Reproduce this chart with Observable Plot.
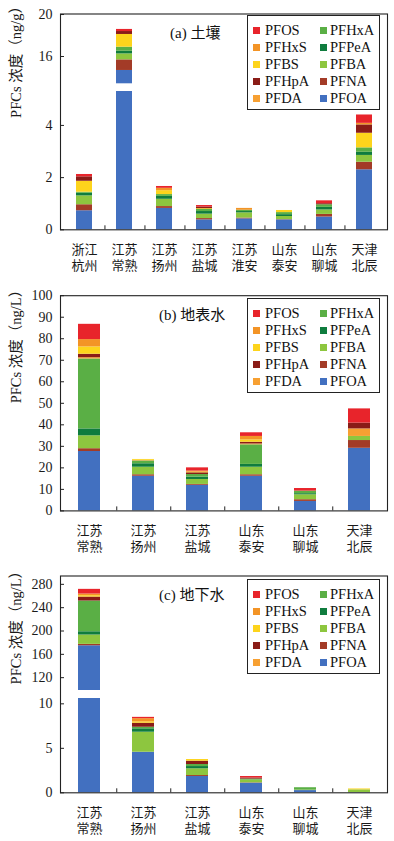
<!DOCTYPE html>
<html><head><meta charset="utf-8">
<script src="https://cdn.jsdelivr.net/npm/d3@7"></script>
<script src="https://cdn.jsdelivr.net/npm/@observablehq/plot@0.6"></script>
<style>
body{margin:0;background:#fff;}
#root{width:394px;}
.panel{position:relative;width:394px;overflow:hidden;}
.title{position:absolute;font-family:"Liberation Serif","Noto Sans CJK SC",serif;font-size:15px;line-height:15px;color:#111;white-space:nowrap;}
.legend{position:absolute;left:247px;width:133px;height:95px;border:1px solid #222;background:#fff;box-sizing:border-box;}
.sw{position:absolute;width:7px;height:7px;}
.lt{position:absolute;font-family:"Liberation Serif",serif;font-size:14.5px;line-height:17px;color:#111;white-space:nowrap;}
</style>
</head><body><div id="root"></div>
<script>
const compounds = ["PFOS","PFHxS","PFBS","PFHpA","PFDA","PFHxA","PFPeA","PFBA","PFNA","PFOA"];
const colors    = ["#e8242b","#f39426","#fdd41c","#8a1c17","#f7a032","#5aaf45","#0f7c3e","#8dc63f","#a33b27","#4270c0"];

const sitesSoil  = ["浙江杭州","江苏常熟","江苏扬州","江苏盐城","江苏淮安","山东泰安","山东聊城","天津北辰"];
const sitesWater = ["江苏常熟","江苏扬州","江苏盐城","山东泰安","山东聊城","天津北辰"];

// rows follow `compounds`, columns follow the sites
const soil = [
  [0.09, 0.20, 0.07, 0.06, 0.00, 0.00, 0.11, 0.32],
  [0.00, 0.00, 0.09, 0.00, 0.07, 0.00, 0.00, 0.06],
  [0.42, 1.21, 0.15, 0.03, 0.00, 0.08, 0.00, 0.56],
  [0.17, 0.28, 0.00, 0.06, 0.00, 0.00, 0.04, 0.32],
  [0.00, 0.00, 0.00, 0.00, 0.00, 0.00, 0.00, 0.00],
  [0.04, 0.39, 0.07, 0.08, 0.05, 0.08, 0.10, 0.17],
  [0.10, 0.25, 0.11, 0.10, 0.05, 0.07, 0.10, 0.12],
  [0.34, 0.57, 0.28, 0.17, 0.20, 0.12, 0.17, 0.26],
  [0.23, 1.01, 0.07, 0.05, 0.03, 0.01, 0.10, 0.29],
  [0.73, 14.67, 0.82, 0.38, 0.42, 0.38, 0.49, 2.30]
];
const surface = [
  [7.1, 0.0, 1.5, 1.7, 1.2, 6.6],
  [3.4, 0.0, 0.5, 1.6, 0.0, 0.0],
  [3.4, 0.4, 0.3, 1.1, 0.0, 0.0],
  [1.6, 0.0, 0.8, 0.8, 0.0, 2.7],
  [0.6, 0.3, 0.0, 0.4, 0.0, 3.5],
  [32.5, 1.3, 1.2, 9.1, 1.2, 0.0],
  [3.2, 1.6, 1.1, 1.3, 0.5, 0.0],
  [6.0, 3.5, 2.3, 3.5, 2.3, 1.9],
  [1.3, 0.7, 0.4, 0.7, 0.8, 3.6],
  [27.6, 16.1, 11.9, 16.1, 4.4, 29.1]
];
const ground = [
  [8.0, 0.15, 0.00, 0.17, 0.00, 0.00],
  [2.9, 0.35, 0.00, 0.00, 0.00, 0.00],
  [2.3, 0.16, 0.19, 0.00, 0.00, 0.10],
  [6.8, 0.45, 0.37, 0.12, 0.00, 0.00],
  [0.0, 0.00, 0.00, 0.00, 0.00, 0.00],
  [52.7, 0.18, 0.23, 0.12, 0.27, 0.00],
  [5.6, 0.38, 0.25, 0.00, 0.00, 0.00],
  [16.0, 2.25, 0.76, 0.30, 0.05, 0.30],
  [2.4, 0.00, 0.11, 0.04, 0.00, 0.00],
  [174.7, 4.56, 1.83, 1.08, 0.25, 0.03]
];

const orderSoil  = ["PFOA","PFNA","PFBA","PFPeA","PFHxA","PFBS","PFHpA","PFDA","PFHxS","PFOS"];
const orderWater = ["PFOA","PFNA","PFBA","PFPeA","PFHxA","PFDA","PFHpA","PFBS","PFHxS","PFOS"];

const ticksSoil    = [0, 2, 4, 16, 20];
const ticksSurface = [0, 10, 20, 30, 40, 50, 60, 70, 80, 90, 100];
const ticksGround  = [0, 5, 10, 120, 160, 200, 240, 280];

// broken axes: value stops and their height (px) above the frame bottom
const panels = [
  {title: "(a) 土壤", titleLeft: 170, sites: sitesSoil, values: soil, order: orderSoil, ticks: ticksSoil,
   ylabel: "PFCs 浓度（ng/g）", height: 280, marginTop: 13.5, marginBottom: 50.7, legendTop: 15,
   yStops: [0, 5.3, 13.4, 20.05], yPx: [0, 138.3, 146, 215.8], brk: [5.3, 13.4], labelDy: -4},
  {title: "(b) 地表水", titleLeft: 159, sites: sitesWater, values: surface, order: orderWater, ticks: ticksSurface,
   ylabel: "PFCs 浓度（ng/L）", height: 280, marginTop: 15.2, marginBottom: 49.6, legendTop: 18,
   yStops: [0, 100], yPx: [0, 215.2], brk: null, labelDy: 0},
  {title: "(c) 地下水", titleLeft: 159, sites: sitesWater, values: ground, order: orderWater, ticks: ticksGround,
   ylabel: "PFCs 浓度（ng/L）", height: 281, marginTop: 15.5, marginBottom: 48.7, legendTop: 19,
   yStops: [0, 10.6, 98, 294.3], yPx: [0, 94.3, 102.3, 216.8], brk: [10.6, 98], labelDy: 0}
];

const root = document.getElementById("root");
const width = 394, marginLeft = 60, marginRight = 7;
const ink = "#1a1a1a";

for (const p of panels) {
  const f = d3.scaleLinear().domain(p.yStops).range(p.yPx);
  const data = [];
  p.sites.forEach((s, j) => {
    let acc = 0;
    for (const c of p.order) {
      const v = p.values[compounds.indexOf(c)][j];
      data.push({site: s, compound: c, y1: f(acc), y2: f(acc + v)});
      acc += v;
    }
  });
  const totals = p.sites.map((s, j) => d3.sum(p.values, r => r[j]));
  const step = (width - marginLeft - marginRight) / p.sites.length;
  const tickPos = p.ticks.map(f);
  const tickLabel = new Map(p.ticks.map(t => [f(t), String(t)]));
  const marks = [
    Plot.barY(data, {x: "site", y1: "y1", y2: "y2", fill: "compound"})
  ];
  if (p.brk) {
    const broken = p.sites.filter((s, j) => totals[j] > p.brk[1]);
    marks.push(Plot.barY(broken, {x: d => d, y1: f(p.brk[0]), y2: f(p.brk[1]), fill: "white", insetLeft: -1, insetRight: -1}));
  }
  marks.push(
    Plot.frame({stroke: "#222", strokeWidth: 1.1}),
    Plot.axisY(tickPos, {tickSize: 0, tickPadding: 8, fontSize: 14, label: null, fill: ink, tickFormat: d => tickLabel.get(d)}),
    Plot.axisY(tickPos, {tickSize: -4, text: null, label: null, stroke: "#222"}),
    Plot.axisX(p.sites.slice(0, -1), {tickSize: -4, text: null, label: null, dx: step / 2, stroke: "#222"}),
    Plot.axisX(p.sites, {tickSize: 0, tickPadding: 12, label: null, fontSize: 13, lineHeight: 1.28,
      tickFormat: d => d.slice(0, 2) + "\n" + d.slice(2), fill: ink}),
    Plot.text([p.ylabel], {frameAnchor: "left", dx: -44, dy: p.labelDy, rotate: -90, fontSize: 14.5, fill: ink})
  );
  const svg = Plot.plot({
    width, height: p.height, marginLeft, marginRight, marginTop: p.marginTop, marginBottom: p.marginBottom,
    style: {fontFamily: '"Liberation Serif","Noto Sans CJK SC",serif', background: "#fff", color: ink, overflow: "visible"},
    x: {domain: p.sites, paddingInner: 0.6, paddingOuter: 0.3, align: 0.5},
    y: {domain: [0, p.yPx[p.yPx.length - 1]]},
    color: {domain: compounds, range: colors},
    marks
  });
  const div = document.createElement("div");
  div.className = "panel";
  div.style.height = p.height + "px";
  div.appendChild(svg);
  const t = document.createElement("div");
  t.className = "title";
  t.textContent = p.title;
  t.style.left = p.titleLeft + "px";
  t.style.top = (p.marginTop + 12.5) + "px";
  div.appendChild(t);
  const lg = document.createElement("div");
  lg.className = "legend";
  lg.style.top = p.legendTop + "px";
  compounds.forEach((c, i) => {
    const col = Math.floor(i / 5), row = i % 5;
    const cy = 15 + row * 17;
    const sw = document.createElement("div");
    sw.className = "sw";
    sw.style.background = colors[i];
    sw.style.left = (col ? 72 : 5) + "px";
    sw.style.top = (cy - 4.5) + "px";
    lg.appendChild(sw);
    const tx = document.createElement("div");
    tx.className = "lt";
    tx.textContent = c;
    tx.style.left = (col ? 82 : 17) + "px";
    tx.style.top = (cy - 9.5) + "px";
    lg.appendChild(tx);
  });
  div.appendChild(lg);
  root.appendChild(div);
}
</script>
</body></html>
